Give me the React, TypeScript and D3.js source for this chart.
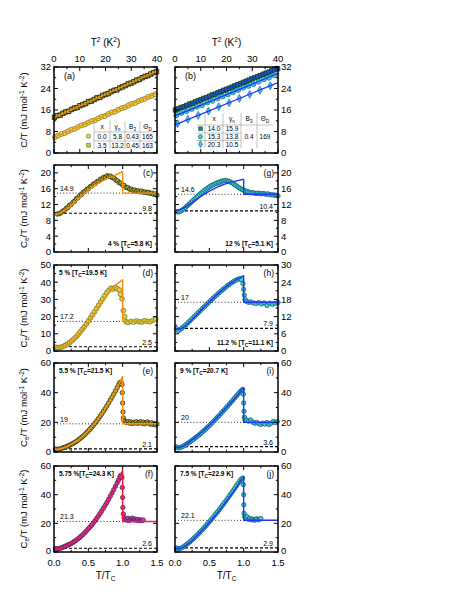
import React from 'react';
import * as d3 from 'd3';

type Pt = [number, number];

const FONT = '"Liberation Sans", Arial, Helvetica, sans-serif';

// ---------- panels (a), (b): C/T against T^2 ----------
const a00T2 = [0.4, 1.6, 2.9, 4.2, 5.5, 6.8, 8.1, 9.4, 10.7, 12.0, 13.3, 14.6, 15.9, 17.2, 18.5, 19.8, 21.1, 22.4, 23.7, 25.0, 26.3, 27.6, 28.9, 30.2, 31.5, 32.8, 34.1, 35.4, 36.7, 38.0, 39.3];
const a00CT = [5.9, 6.5, 7.1, 7.4, 8.1, 8.7, 9.0, 9.7, 10.3, 10.6, 11.3, 11.9, 12.2, 12.9, 13.5, 13.8, 14.5, 15.1, 15.4, 16.1, 16.7, 17.0, 17.7, 18.3, 18.6, 19.3, 19.8, 20.2, 20.9, 21.3, 21.8];
const denseT2 = [0.2, 1.3, 2.4, 3.5, 4.6, 5.7, 6.8, 7.9, 9.0, 10.1, 11.2, 12.3, 13.4, 14.5, 15.6, 16.7, 17.8, 18.9, 20.0, 21.1, 22.2, 23.3, 24.4, 25.5, 26.6, 27.7, 28.8, 29.9, 31.0, 32.1, 33.2, 34.3, 35.4, 36.5, 37.6, 38.7, 39.8];
const a35CT = [13.3, 13.9, 14.1, 14.8, 15.3, 15.5, 16.2, 16.7, 16.9, 17.6, 18.0, 18.4, 19.1, 19.3, 19.9, 20.5, 20.7, 21.4, 21.8, 22.1, 22.8, 23.3, 23.5, 24.2, 24.6, 25.1, 25.7, 26.0, 26.5, 27.1, 27.4, 28.0, 28.5, 28.8, 29.4, 29.9, 30.3];
const b140CT = [16.0, 16.4, 16.9, 17.2, 17.7, 18.2, 18.5, 19.0, 19.4, 19.8, 20.3, 20.6, 21.1, 21.6, 21.9, 22.4, 22.8, 23.3, 23.7, 24.1, 24.5, 25.0, 25.4, 25.8, 26.3, 26.7, 27.1, 27.6, 28.0, 28.4, 28.8, 29.3, 29.7, 30.1, 30.6, 31.0, 31.4];
const b153T2 = [0.5, 2.5, 4.5, 6.5, 8.5, 10.5, 12.5, 14.5, 16.5, 18.5, 20.5, 22.5, 24.5, 26.5, 28.5, 30.5, 32.5, 34.5, 36.5, 38.5];
const b153CT = [14.0, 14.9, 15.5, 16.4, 17.2, 17.8, 18.8, 19.4, 20.3, 21.0, 21.8, 22.6, 23.4, 24.3, 24.9, 25.7, 26.5, 27.4, 28.0, 28.9];
const b203T2 = [1, 5, 9, 13, 17, 21, 25, 29, 33, 37];
const b203CT = [10.9, 12.5, 14.0, 15.6, 17.2, 18.7, 20.3, 21.8, 23.4, 25.0];
// fitted straight lines: C/T at T^2 = 0 and at T^2 = 40
const fitA: Pt[] = [[5.8, 22.3], [13.2, 30.5]];
const fitB: Pt[] = [[15.9, 31.6], [13.8, 29.6], [10.5, 26.2]];

// legend tables
const tabAx = ['0.0', '3.5'];
const tabAg = ['5.8', '13.2'];
const tabAB = ['0.43', '0.45'];
const tabAT = ['165', '163'];
const tabBx = ['14.0', '15.3', '20.3'];
const tabBg = ['15.9', '13.8', '10.5'];
const tabBB = '0.4';
const tabBT = '169';

// ---------- panels (c)-(j): Ce/T against T/Tc ----------
const ptsC: Pt[] = [[0.05, 9.6], [0.075, 9.7], [0.1, 9.9], [0.125, 10.3], [0.15, 10.5], [0.175, 11.0], [0.2, 11.2], [0.225, 11.8], [0.25, 12.0], [0.275, 12.6], [0.3, 12.8], [0.325, 13.5], [0.35, 13.7], [0.375, 14.3], [0.4, 14.5], [0.425, 15.1], [0.45, 15.3], [0.475, 15.8], [0.5, 16.0], [0.525, 16.5], [0.55, 16.7], [0.575, 17.2], [0.6, 17.3], [0.625, 17.8], [0.65, 17.9], [0.675, 18.4], [0.7, 18.5], [0.725, 18.9], [0.75, 18.9], [0.775, 19.3], [0.8, 19.1], [0.825, 19.2], [0.85, 18.8], [0.875, 18.7], [0.9, 18.2], [0.925, 18.0], [0.95, 17.5], [0.975, 17.4], [1.0, 16.9], [1.025, 16.8], [1.05, 16.3], [1.075, 16.3], [1.1, 15.9], [1.125, 15.9], [1.15, 15.6], [1.175, 15.7], [1.2, 15.4], [1.225, 15.5], [1.25, 15.2], [1.275, 15.4], [1.3, 15.1], [1.325, 15.2], [1.35, 15.0], [1.375, 15.1], [1.4, 14.8], [1.425, 14.9], [1.45, 14.6], [1.475, 14.7], [1.5, 14.4]];
const fitC: Pt[] = [[0, 9.7], [0.05, 9.6], [0.1, 9.9], [0.2, 11.0], [0.3, 12.5], [0.4, 14.1], [0.5, 15.6], [0.6, 16.9], [0.7, 17.9], [0.8, 18.8], [0.9, 19.5], [1.0, 20.3]];

const ptsG: Pt[] = [[0.03, 10.2], [0.055, 10.1], [0.08, 10.3], [0.105, 10.6], [0.13, 10.9], [0.155, 11.3], [0.18, 11.7], [0.205, 12.1], [0.23, 12.5], [0.255, 12.9], [0.28, 13.3], [0.305, 13.7], [0.33, 14.1], [0.355, 14.5], [0.38, 14.9], [0.405, 15.2], [0.43, 15.6], [0.455, 15.9], [0.48, 16.2], [0.505, 16.5], [0.53, 16.8], [0.555, 17.0], [0.58, 17.2], [0.605, 17.4], [0.63, 17.6], [0.655, 17.7], [0.68, 17.9], [0.705, 18.0], [0.73, 18.1], [0.755, 18.0], [0.78, 17.9], [0.805, 17.7], [0.83, 17.5], [0.855, 17.2], [0.88, 16.9], [0.905, 16.6], [0.93, 16.3], [0.955, 16.0], [0.98, 15.8], [1.005, 15.6], [1.03, 15.4], [1.055, 15.3], [1.08, 15.1], [1.105, 15.0], [1.13, 15.0], [1.155, 14.9], [1.18, 14.8], [1.205, 14.9], [1.23, 14.8], [1.255, 14.7], [1.28, 14.8], [1.305, 14.7], [1.33, 14.6], [1.355, 14.7], [1.38, 14.5], [1.405, 14.5], [1.43, 14.4], [1.455, 14.4], [1.48, 14.3], [1.5, 14.2]];
const fitG: Pt[] = [[0, 10.4], [0.1, 10.9], [0.2, 11.9], [0.3, 13.1], [0.4, 14.3], [0.5, 15.4], [0.6, 16.3], [0.7, 17.0], [0.8, 17.6], [0.9, 18.0], [1.0, 18.4]];

const ptsD: Pt[] = [[0.02, 2.2], [0.05, 1.9], [0.08, 2.0], [0.11, 2.3], [0.14, 2.8], [0.17, 3.4], [0.2, 4.1], [0.23, 5.0], [0.26, 5.9], [0.29, 7.0], [0.32, 8.2], [0.35, 9.5], [0.38, 11.0], [0.41, 12.5], [0.44, 14.0], [0.47, 15.7], [0.5, 17.4], [0.53, 19.2], [0.56, 21.0], [0.59, 22.8], [0.62, 24.7], [0.65, 26.6], [0.68, 28.5], [0.71, 30.3], [0.74, 32.2], [0.77, 34.0], [0.8, 35.3], [0.83, 36.5], [0.86, 36.0], [0.89, 37.0], [0.92, 36.2], [0.95, 35.5], [0.97, 33.0], [0.99, 30.3], [1.01, 23.5], [1.03, 20.0], [1.05, 17.0], [1.08, 16.6], [1.12, 17.2], [1.16, 16.8], [1.2, 17.5], [1.24, 17.0], [1.28, 16.9], [1.32, 17.6], [1.36, 17.2], [1.4, 17.0], [1.44, 17.8], [1.48, 18.5]];
const fitD: Pt[] = [[0, 2.5], [0.05, 2.0], [0.1, 2.1], [0.2, 3.8], [0.3, 7.0], [0.4, 11.5], [0.5, 16.8], [0.6, 22.5], [0.7, 28.5], [0.8, 34.0], [0.9, 38.3], [1.0, 41.5]];

const ptsH: Pt[] = [[0.02, 7.8], [0.05, 7.1], [0.08, 7.6], [0.1, 8.0], [0.13, 8.6], [0.16, 9.2], [0.19, 9.9], [0.22, 10.6], [0.25, 11.3], [0.28, 12.0], [0.31, 12.7], [0.34, 13.4], [0.37, 14.1], [0.4, 14.8], [0.43, 15.5], [0.46, 16.2], [0.49, 16.9], [0.52, 17.6], [0.55, 18.3], [0.58, 19.0], [0.61, 19.6], [0.64, 20.3], [0.67, 20.9], [0.7, 21.5], [0.73, 22.1], [0.76, 22.7], [0.79, 23.2], [0.82, 23.7], [0.85, 24.2], [0.88, 24.6], [0.91, 25.0], [0.94, 25.2], [0.97, 24.8], [0.99, 23.5], [1.0, 21.5], [1.01, 19.5], [1.02, 18.0], [1.04, 17.3], [1.07, 17.0], [1.1, 17.1], [1.14, 16.8], [1.18, 16.6], [1.22, 16.9], [1.26, 16.4], [1.3, 16.8], [1.34, 15.9], [1.38, 16.7], [1.42, 16.3], [1.46, 16.6], [1.5, 16.9]];
const fitH: Pt[] = [[0, 7.9], [0.05, 7.6], [0.1, 8.0], [0.2, 9.8], [0.3, 12.2], [0.4, 14.7], [0.5, 17.1], [0.6, 19.4], [0.7, 21.5], [0.8, 23.4], [0.9, 25.0], [1.0, 26.3]];

const ptsE: Pt[] = [[0.02, 2.0], [0.045, 1.8], [0.07, 1.9], [0.095, 2.2], [0.12, 2.6], [0.145, 3.0], [0.17, 3.4], [0.195, 3.9], [0.22, 4.4], [0.245, 5.0], [0.27, 5.6], [0.295, 6.3], [0.32, 7.0], [0.345, 7.8], [0.37, 8.7], [0.395, 9.6], [0.42, 10.6], [0.445, 11.6], [0.47, 12.8], [0.495, 14.0], [0.52, 15.2], [0.545, 16.5], [0.57, 17.8], [0.595, 19.3], [0.62, 20.8], [0.645, 22.4], [0.67, 24.0], [0.695, 25.7], [0.72, 27.4], [0.745, 29.2], [0.77, 31.1], [0.795, 33.0], [0.82, 35.0], [0.845, 37.0], [0.87, 39.1], [0.895, 41.2], [0.92, 43.4], [0.945, 45.6], [0.96, 46.8], [0.975, 47.2], [0.99, 45.5], [0.995, 40.0], [1.0, 33.0], [1.005, 27.0], [1.01, 23.0], [1.02, 21.0], [1.04, 20.5], [1.06, 19.8], [1.08, 20.6], [1.1, 19.5], [1.12, 20.2], [1.14, 19.2], [1.16, 20.0], [1.18, 19.6], [1.2, 20.4], [1.22, 19.3], [1.24, 19.9], [1.26, 20.5], [1.28, 19.4], [1.3, 20.1], [1.32, 19.0], [1.34, 19.8], [1.36, 20.3], [1.38, 19.5], [1.4, 18.8], [1.42, 19.7], [1.44, 18.6], [1.46, 19.2], [1.48, 18.3], [1.5, 18.9]];
const fitE: Pt[] = [[0, 2.1], [0.05, 1.8], [0.1, 2.2], [0.2, 3.9], [0.3, 6.5], [0.4, 9.8], [0.5, 14.3], [0.6, 19.6], [0.7, 25.8], [0.8, 33.3], [0.9, 41.8], [1.0, 51.0]];

const ptsI: Pt[] = [[0.02, 3.4], [0.045, 2.8], [0.07, 2.9], [0.095, 3.3], [0.12, 3.9], [0.145, 4.6], [0.17, 5.3], [0.195, 6.1], [0.22, 6.9], [0.245, 7.7], [0.27, 8.6], [0.295, 9.5], [0.32, 10.4], [0.345, 11.3], [0.37, 12.3], [0.395, 13.3], [0.42, 14.3], [0.445, 15.4], [0.47, 16.5], [0.495, 17.6], [0.52, 18.7], [0.545, 19.9], [0.57, 21.1], [0.595, 22.3], [0.62, 23.5], [0.645, 24.7], [0.67, 26.0], [0.695, 27.3], [0.72, 28.5], [0.745, 29.8], [0.77, 31.1], [0.795, 32.4], [0.82, 33.8], [0.845, 35.1], [0.87, 36.5], [0.895, 37.8], [0.92, 39.2], [0.945, 40.4], [0.965, 41.4], [0.985, 42.2], [0.995, 39.0], [1.0, 33.0], [1.005, 27.5], [1.01, 23.5], [1.02, 21.5], [1.04, 21.5], [1.07, 20.8], [1.1, 21.6], [1.13, 20.2], [1.16, 19.4], [1.19, 20.0], [1.22, 19.1], [1.25, 18.6], [1.28, 19.5], [1.31, 18.8], [1.34, 19.9], [1.37, 18.5], [1.4, 19.4], [1.43, 20.6], [1.46, 19.8], [1.49, 20.5]];
const fitI: Pt[] = [[0, 3.6], [0.05, 2.9], [0.1, 3.4], [0.2, 6.5], [0.3, 10.0], [0.4, 13.8], [0.5, 18.0], [0.6, 22.6], [0.7, 27.5], [0.8, 32.5], [0.9, 37.8], [1.0, 43.5]];

const ptsF: Pt[] = [[0.02, 2.4], [0.045, 2.1], [0.07, 2.3], [0.095, 2.7], [0.12, 3.2], [0.145, 3.7], [0.17, 4.2], [0.195, 4.7], [0.22, 5.2], [0.245, 5.8], [0.27, 6.5], [0.295, 7.3], [0.32, 8.1], [0.345, 9.0], [0.37, 10.0], [0.395, 11.0], [0.42, 12.1], [0.445, 13.3], [0.47, 14.6], [0.495, 15.9], [0.52, 17.2], [0.545, 18.6], [0.57, 20.1], [0.595, 21.7], [0.62, 23.3], [0.645, 25.0], [0.67, 26.8], [0.695, 28.6], [0.72, 30.5], [0.745, 32.5], [0.77, 34.5], [0.795, 36.7], [0.82, 38.9], [0.845, 41.2], [0.87, 43.5], [0.895, 45.9], [0.92, 48.3], [0.94, 50.3], [0.96, 52.5], [0.975, 53.5], [0.99, 52.0], [0.995, 45.0], [1.0, 38.0], [1.003, 31.0], [1.01, 26.5], [1.02, 24.0], [1.04, 23.0], [1.06, 22.2], [1.08, 23.5], [1.1, 22.0], [1.12, 22.8], [1.14, 23.6], [1.16, 22.4], [1.18, 23.0], [1.2, 22.1], [1.22, 22.7], [1.24, 21.8], [1.26, 22.5], [1.28, 21.9], [1.3, 22.3]];
const fitF: Pt[] = [[0, 2.6], [0.05, 2.2], [0.1, 2.6], [0.2, 4.6], [0.3, 7.5], [0.4, 11.2], [0.5, 16.1], [0.6, 22.0], [0.7, 29.0], [0.8, 37.2], [0.9, 46.4], [1.0, 57.0]];

const ptsJ: Pt[] = [[0.02, 2.8], [0.045, 2.3], [0.07, 2.4], [0.095, 2.9], [0.12, 3.6], [0.145, 4.4], [0.17, 5.3], [0.195, 6.2], [0.22, 7.2], [0.245, 8.3], [0.27, 9.4], [0.295, 10.5], [0.32, 11.7], [0.345, 12.9], [0.37, 14.1], [0.395, 15.4], [0.42, 16.7], [0.445, 18.0], [0.47, 19.4], [0.495, 20.8], [0.52, 22.2], [0.545, 23.6], [0.57, 25.1], [0.595, 26.6], [0.62, 28.1], [0.645, 29.6], [0.67, 31.2], [0.695, 32.8], [0.72, 34.4], [0.745, 36.0], [0.77, 37.7], [0.795, 39.4], [0.82, 41.1], [0.845, 42.8], [0.87, 44.5], [0.895, 46.3], [0.92, 48.0], [0.945, 49.6], [0.965, 50.8], [0.985, 51.5], [0.995, 47.0], [1.0, 40.0], [1.003, 33.0], [1.006, 27.0], [1.015, 24.5], [1.03, 23.5], [1.05, 24.6], [1.07, 22.8], [1.09, 23.4], [1.11, 22.5], [1.13, 23.0], [1.15, 22.2], [1.17, 22.6], [1.19, 23.2], [1.21, 22.4], [1.23, 22.9], [1.25, 23.3]];
const fitJ: Pt[] = [[0, 2.9], [0.05, 2.3], [0.1, 2.9], [0.2, 6.0], [0.3, 10.5], [0.4, 15.3], [0.5, 20.6], [0.6, 26.2], [0.7, 32.3], [0.8, 38.7], [0.9, 45.5], [1.0, 53.0]];

// per-panel values, order c, g, d, h, e, i, f, j
const panelLetters = ['(c)', '(g)', '(d)', '(h)', '(e)', '(i)', '(f)', '(j)'];
const dopings = ['4 % ', '12 % ', '5 % ', '11.2 % ', '5.5 % ', '9 % ', '5.75 %', '7.5 % '];
const tcValues = ['5.8', '5.1', '19.5', '11.1', '21.5', '20.7', '24.3', '22.9'];
const gammaN = [14.9, 14.6, 17.2, 17, 19, 20, 21.3, 22.1];
const gammaRes = [9.8, 10.4, 2.5, 7.9, 2.1, 3.6, 2.6, 2.9];
const yMaxes = [22, 22, 50, 30, 60, 60, 60, 60];
const yMajors = [[0, 4, 8, 12, 16, 20], [0, 4, 8, 12, 16, 20], [0, 10, 20, 30, 40, 50], [0, 6, 12, 18, 24, 30], [0, 20, 40, 60], [0, 20, 40, 60], [0, 20, 40, 60], [0, 20, 40, 60]];
const yMinors = [[2, 6, 10, 14, 18, 22], [2, 6, 10, 14, 18, 22], [5, 15, 25, 35, 45], [3, 9, 15, 21, 27], [10, 30, 50], [10, 30, 50], [10, 30, 50], [10, 30, 50]];
const allPts = [ptsC, ptsG, ptsD, ptsH, ptsE, ptsI, ptsF, ptsJ];
const allFits = [fitC, fitG, fitD, fitH, fitE, fitI, fitF, fitJ];

// ---------- layout ----------
const COLX = [54, 175];
const PW = 103;
const ROWS: [number, number][] = [[67, 153], [165, 252], [265, 351], [363, 452], [466, 552]];

const ORANGE = '#ff8c0a';
const BLUE = '#1f35ff';
const RED = '#ff1535';
const OLIVE_DARK = { fill: '#b8b030', stroke: '#1e1e08' };
const OLIVE_LIGHT = { fill: '#dcd444', stroke: '#6a6a1c' };
const CYAN = { fill: '#36d2d8', stroke: '#124e5e' };
const PURPLE = { fill: '#b848c0', stroke: '#3a1844' };

type AxesProps = {
  x0: number; x1: number; y0: number; y1: number;
  xs: d3.ScaleLinear<number, number>; ys: d3.ScaleLinear<number, number>;
  xMajor: number[]; xMinor: number[]; yMajor: number[]; yMinor: number[];
  ySide: 'left' | 'right'; xTop: boolean; xBottom: boolean; xFmt: (v: number) => string;
};

function Axes(p: AxesProps) {
  const els: React.ReactNode[] = [];
  const tick = (len: number, key: string, vx: number | null, vy: number | null) => {
    if (vx !== null) {
      const x = p.xs(vx);
      els.push(<line key={key + 'b'} x1={x} x2={x} y1={p.y1} y2={p.y1 - len} />);
      els.push(<line key={key + 't'} x1={x} x2={x} y1={p.y0} y2={p.y0 + len} />);
    } else if (vy !== null) {
      const y = p.ys(vy);
      els.push(<line key={key + 'l'} x1={p.x0} x2={p.x0 + len} y1={y} y2={y} />);
      els.push(<line key={key + 'r'} x1={p.x1} x2={p.x1 - len} y1={y} y2={y} />);
    }
  };
  p.xMajor.forEach((v) => tick(4, 'xM' + v, v, null));
  p.xMinor.forEach((v) => tick(2.2, 'xm' + v, v, null));
  p.yMajor.forEach((v) => tick(4, 'yM' + v, null, v));
  p.yMinor.forEach((v) => tick(2.2, 'ym' + v, null, v));
  return (
    <g>
      <g stroke="#000" strokeWidth={1}>{els}</g>
      <rect x={p.x0} y={p.y0} width={p.x1 - p.x0} height={p.y1 - p.y0} fill="none" stroke="#000" strokeWidth={1.5} />
      <g fontSize={9.5} fill="#000">
        {p.yMajor.map((v) => (
          <text key={'yl' + v} x={p.ySide === 'left' ? p.x0 - 3 : p.x1 + 3}
            y={p.ys(v) + (p.xBottom && v === 0 ? 2.4 : 3.4)}
            textAnchor={p.ySide === 'left' ? 'end' : 'start'}>{v}</text>
        ))}
        {p.xTop && p.xMajor.map((v) => (
          <text key={'xt' + v} x={p.xs(v)} y={p.y0 - 5} textAnchor="middle">{p.xFmt(v)}</text>
        ))}
        {p.xBottom && p.xMajor.map((v) => (
          <text key={'xb' + v} x={p.xs(v)} y={p.y1 + 13.5} textAnchor="middle">{p.xFmt(v)}</text>
        ))}
      </g>
    </g>
  );
}

function Sym({ type, x, y, fill, stroke, size, sw = 0.6 }: { type: d3.SymbolType; x: number; y: number; fill: string; stroke: string; size: number; sw?: number }) {
  const d = d3.symbol().type(type).size(size)() || '';
  return <path d={d} transform={`translate(${x},${y})`} fill={fill} stroke={stroke} strokeWidth={sw} />;
}

function TopPanel({ col }: { col: number }) {
  const x0 = COLX[col];
  const x1 = x0 + PW;
  const [y0, y1] = ROWS[0];
  const xs = d3.scaleLinear().domain([0, 40]).range([x0, x1]);
  const ys = d3.scaleLinear().domain([0, 32]).range([y1, y0]);
  const lines = col === 0 ? fitA : fitB;
  const lineColor = col === 0 ? ORANGE : BLUE;
  const series = col === 0
    ? [
      { t: denseT2, v: a35CT, type: d3.symbolSquare, fill: '#a8a02c', stroke: '#141406', size: 20, sw: 0.8 },
      { t: a00T2, v: a00CT, type: d3.symbolCircle, fill: '#e4dc50', stroke: '#5c5c18', size: 20, sw: 0.6 },
    ]
    : [
      { t: denseT2, v: b140CT, type: d3.symbolSquare, fill: '#1a7a6c', stroke: '#0a2c2a', size: 20, sw: 0.8 },
      { t: b153T2, v: b153CT, type: d3.symbolCircle, fill: '#30d0da', stroke: '#0f5a64', size: 20, sw: 0.6 },
      { t: b203T2, v: b203CT, type: d3.symbolDiamond, fill: '#44c8e6', stroke: '#1448a0', size: 18, sw: 0.6 },
    ];
  return (
    <g>
      {series.map((s, si) => s.t.map((t, i) => (
        <Sym key={si + '-' + i} type={s.type} x={xs(t)} y={ys(s.v[i])} fill={s.fill} stroke={s.stroke} size={s.size} sw={s.sw} />
      )))}
      {lines.map((l, i) => (
        <line key={'fl' + i} x1={xs(0)} y1={ys(l[0])} x2={xs(40)} y2={ys(l[1])} stroke={lineColor} strokeWidth={1.3} />
      ))}
      {col === 0 ? <TableA /> : <TableB />}
      <text x={x0 + 10} y={y0 + 12} fontSize={9}>{col === 0 ? '(a)' : '(b)'}</text>
      <Axes x0={x0} x1={x1} y0={y0} y1={y1} xs={xs} ys={ys}
        xMajor={[0, 10, 20, 30, 40]} xMinor={[5, 15, 25, 35]}
        yMajor={[0, 8, 16, 24, 32]} yMinor={[4, 12, 20, 28]}
        ySide={col === 0 ? 'left' : 'right'} xTop xBottom={false} xFmt={(v) => String(v)} />
    </g>
  );
}

function Sub({ base, sub, size = 6.5 }: { base: string; sub: string; size?: number }) {
  return (
    <>
      <tspan>{base}</tspan>
      <tspan dy={1.8} fontSize={size * 0.7}>{sub}</tspan>
      <tspan dy={-1.8}>{''}</tspan>
    </>
  );
}

function TableA() {
  const vx = [94, 110, 125, 140, 155];
  const hy = [121, 132, 141, 149];
  const cx = [102, 117.5, 132.5, 147.5];
  const rowsY = [138.5, 147.5];
  return (
    <g fontSize={6.5} textAnchor="middle">
      <g stroke="#9a9a9a" strokeWidth={0.6}>
        {vx.slice(0, 4).map((x) => <line key={'v' + x} x1={x} x2={x} y1={hy[0]} y2={hy[3]} />)}
        {hy.slice(1, 3).map((y) => <line key={'h' + y} x1={vx[0]} x2={vx[4]} y1={y} y2={y} />)}
      </g>
      <text x={cx[0]} y={129}>x</text>
      <text x={cx[1]} y={129}><Sub base="γ" sub="n" /></text>
      <text x={cx[2]} y={129}><Sub base="B" sub="3" /></text>
      <text x={cx[3]} y={129}><Sub base="Θ" sub="D" /></text>
      {tabAx.map((v, i) => (
        <g key={'ra' + i}>
          <Sym type={i === 0 ? d3.symbolCircle : d3.symbolSquare} x={88.5} y={rowsY[i] - 2.3}
            fill={i === 0 ? '#e4dc50' : '#d4cc38'} stroke="#5c5c18" size={14} />
          <text x={cx[0]} y={rowsY[i]}>{v}</text>
          <text x={cx[1]} y={rowsY[i]}>{tabAg[i]}</text>
          <text x={cx[2]} y={rowsY[i]}>{tabAB[i]}</text>
          <text x={cx[3]} y={rowsY[i]}>{tabAT[i]}</text>
        </g>
      ))}
    </g>
  );
}

function TableB() {
  const vx = [205, 223, 241, 257, 273];
  const hy = [113, 125, 133, 140.5, 148];
  const cx = [214, 232, 249, 265];
  const rowsY = [131, 139, 146.5];
  const syms = [
    { type: d3.symbolSquare, fill: '#20907e', stroke: '#0c3a36' },
    { type: d3.symbolCircle, fill: '#30d0da', stroke: '#0f5a64' },
    { type: d3.symbolDiamond, fill: '#44c8e6', stroke: '#1448a0' },
  ];
  return (
    <g fontSize={6.5} textAnchor="middle">
      <g stroke="#9a9a9a" strokeWidth={0.6}>
        {vx.slice(0, 4).map((x) => <line key={'v' + x} x1={x} x2={x} y1={hy[0]} y2={hy[4]} />)}
        <line x1={197} x2={vx[4]} y1={hy[1]} y2={hy[1]} />
        <line x1={197} x2={vx[2]} y1={hy[2]} y2={hy[2]} />
        <line x1={197} x2={vx[2]} y1={hy[3]} y2={hy[3]} />
      </g>
      <text x={cx[0]} y={121}>x</text>
      <text x={cx[1]} y={121}><Sub base="γ" sub="n" /></text>
      <text x={cx[2]} y={121}><Sub base="B" sub="3" /></text>
      <text x={cx[3]} y={121}><Sub base="Θ" sub="D" /></text>
      {tabBx.map((v, i) => (
        <g key={'rb' + i}>
          <Sym type={syms[i].type} x={200.5} y={rowsY[i] - 2.3} fill={syms[i].fill} stroke={syms[i].stroke} size={14} />
          <text x={cx[0]} y={rowsY[i]}>{v}</text>
          <text x={cx[1]} y={rowsY[i]}>{tabBg[i]}</text>
        </g>
      ))}
      <text x={cx[2]} y={139}>{tabBB}</text>
      <text x={cx[3]} y={139}>{tabBT}</text>
    </g>
  );
}

function LowerPanel({ idx }: { idx: number }) {
  const col = idx % 2;
  const row = 1 + Math.floor(idx / 2);
  const x0 = COLX[col];
  const x1 = x0 + PW;
  const [y0, y1] = ROWS[row];
  const xs = d3.scaleLinear().domain([0, 1.5]).range([x0, x1]);
  const ys = d3.scaleLinear().domain([0, yMaxes[idx]]).range([y1, y0]);
  const fit = allFits[idx];
  const peak = fit[fit.length - 1][1];
  const gN = gammaN[idx];
  const gR = gammaRes[idx];
  const isOrange = idx === 0 || idx === 2 || idx === 4;
  const isRed = idx === 6;
  const fitColor = isOrange ? ORANGE : isRed ? RED : BLUE;
  const ptStyle = idx === 2 ? OLIVE_LIGHT : isOrange ? OLIVE_DARK : isRed ? PURPLE : CYAN;
  const smooth = d3.line<Pt>().x((d) => xs(d[0])).y((d) => ys(d[1])).curve(d3.curveCatmullRom)(fit) || '';
  const jumpPts: Pt[] = [[1, peak], [1, gN], [1.5, gN]];
  const jump = d3.line<Pt>().x((d) => xs(d[0])).y((d) => ys(d[1]))(jumpPts) || '';
  const labelBR = idx === 0 || idx === 1 || idx === 3;
  return (
    <g>
      <line x1={x0} x2={x1} y1={ys(gN)} y2={ys(gN)} stroke="#000" strokeWidth={0.9} strokeDasharray="0.9,2.2" />
      <line x1={x0} x2={x1} y1={ys(gR)} y2={ys(gR)} stroke="#000" strokeWidth={1.1} strokeDasharray="3,2" />
      <g>
        {allPts[idx].map((p, i) => (
          <circle key={i} cx={xs(p[0])} cy={ys(p[1])} r={idx === 2 ? 2.4 : 2.2} fill={ptStyle.fill} stroke={ptStyle.stroke} strokeWidth={0.7} />
        ))}
      </g>
      <path d={smooth} fill="none" stroke={fitColor} strokeWidth={1.4} />
      <path d={jump} fill="none" stroke={fitColor} strokeWidth={1.4} />
      <g fontSize={7} fill="#000">
        <text x={x0 + 6} y={ys(gN) - 2}>{String(gN)}</text>
        <text x={x1 - 5} y={ys(gR) - 2} textAnchor="end">{String(gR)}</text>
      </g>
      <text x={x1 - 4} y={y0 + 11} fontSize={8.5} textAnchor="end">{panelLetters[idx]}</text>
      <text x={labelBR ? x1 - 5 : x0 + 5} y={labelBR ? y1 - 6 : y0 + 10} fontSize={6.5} fontWeight="bold"
        textAnchor={labelBR ? 'end' : 'start'}>
        <tspan>{dopings[idx] + '[T'}</tspan>
        <tspan dy={1.8} fontSize={4.8}>C</tspan>
        <tspan dy={-1.8}>{'=' + tcValues[idx] + ' K]'}</tspan>
      </text>
      <Axes x0={x0} x1={x1} y0={y0} y1={y1} xs={xs} ys={ys}
        xMajor={[0, 0.5, 1, 1.5]} xMinor={[0.25, 0.75, 1.25]}
        yMajor={yMajors[idx]} yMinor={yMinors[idx]}
        ySide={col === 0 ? 'left' : 'right'} xTop={false} xBottom={row === 4}
        xFmt={d3.format('.1f')} />
    </g>
  );
}

function YTitle({ cy, sub }: { cy: number; sub: boolean }) {
  return (
    <text transform={`translate(27,${cy}) rotate(-90)`} textAnchor="middle" fontSize={9.5}>
      <tspan>C</tspan>
      {sub ? <tspan dy={2} fontSize={6.5}>e</tspan> : null}
      <tspan dy={sub ? -2 : 0}>/T (mJ mol</tspan>
      <tspan dy={-3.5} fontSize={6.5}>-1</tspan>
      <tspan dy={3.5}> K</tspan>
      <tspan dy={-3.5} fontSize={6.5}>-2</tspan>
      <tspan dy={3.5}>)</tspan>
    </text>
  );
}

export default function App() {
  return (
    <svg width={463} height={599} style={{ position: 'absolute', left: 0, top: 0, background: '#fff' }} fontFamily={FONT}>
      {[0, 1].map((c) => (
        <text key={'tt' + c} x={COLX[c] + PW / 2} y={46} textAnchor="middle" fontSize={10}>
          <tspan>T</tspan>
          <tspan dy={-4} fontSize={6.5}>2</tspan>
          <tspan dy={4}> (K</tspan>
          <tspan dy={-4} fontSize={6.5}>2</tspan>
          <tspan dy={4}>)</tspan>
        </text>
      ))}
      <TopPanel col={0} />
      <TopPanel col={1} />
      {[0, 1, 2, 3, 4, 5, 6, 7].map((i) => <LowerPanel key={i} idx={i} />)}
      {ROWS.map((r, i) => <YTitle key={'yt' + i} cy={(r[0] + r[1]) / 2} sub={i > 0} />)}
      {[0, 1].map((c) => (
        <text key={'bt' + c} x={COLX[c] + PW / 2} y={579} textAnchor="middle" fontSize={10}>
          <tspan>T/T</tspan>
          <tspan dy={2} fontSize={6.5}>C</tspan>
        </text>
      ))}
    </svg>
  );
}
